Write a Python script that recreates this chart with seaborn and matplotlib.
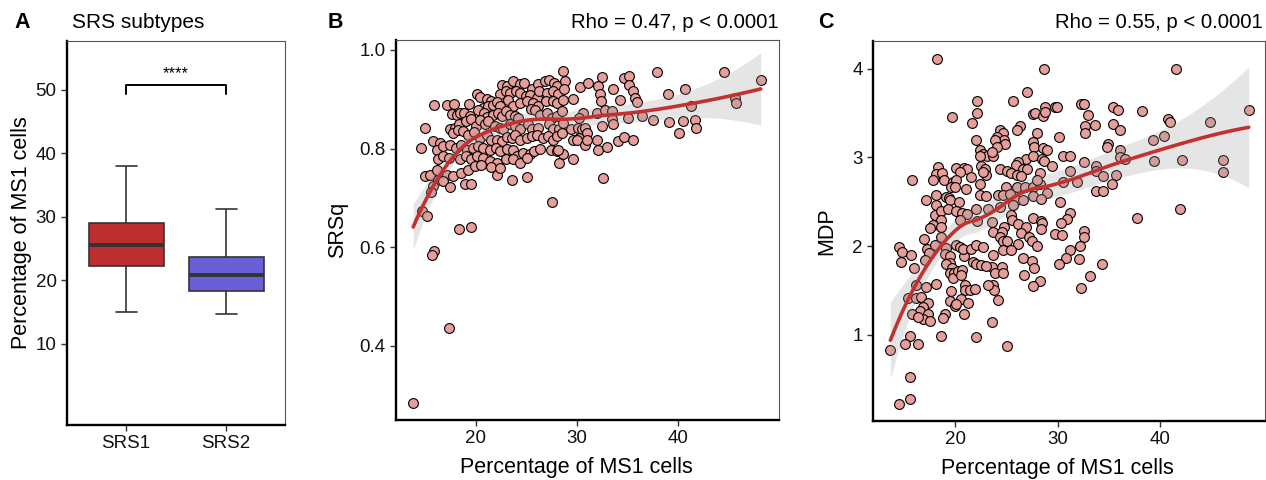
import numpy as np
import pandas as pd
import matplotlib
matplotlib.use('Agg')
from matplotlib import pyplot as plt
import seaborn as sns

# ---- panel A: five-number summaries (min, Q1, median, Q3, max)
subtypes = ['SRS1', 'SRS2']
srs1_box = [15.0, 22.3, 25.5, 29.0, 38.0]
srs2_box = [14.7, 18.3, 20.9, 23.7, 31.2]
box_colors = ['#BC2E30', '#6A5FD6']

# ---- panel B: Percentage of MS1 cells vs SRSq
ms1_b = [22.54, 23.04, 23.70, 24.36, 24.75, 25.51, 26.17, 26.83, 27.26, 27.72, 27.99,
         20.07, 20.40, 21.12, 21.55, 22.38, 22.97, 23.37, 23.96, 24.36, 24.95, 25.35, 26.01, 26.27, 27.00, 27.66, 28.15,
         15.87, 17.19, 17.85, 19.34, 20.66, 21.22, 21.72, 22.05, 22.38, 23.20, 23.70, 24.36, 25.02, 25.68, 26.17, 26.93, 27.66, 27.99,
         17.69, 18.09, 18.42, 18.81, 19.41, 20.23, 20.79, 21.12, 21.72, 22.21, 22.54, 22.97, 23.37, 23.86, 24.19, 25.41, 25.84, 26.34, 27.00, 27.49, 27.99,
         14.95, 17.43, 17.92, 18.32, 19.01, 19.57, 20.00, 20.40, 20.89, 21.22, 21.88, 22.38, 22.71, 23.37, 23.86, 24.36, 25.18, 25.51, 26.17, 27.26, 27.66, 28.25,
         15.78, 16.44, 17.76, 18.25, 18.75, 19.24, 19.80, 20.40, 21.06, 21.55, 22.05, 22.54, 23.04, 23.53, 23.86, 24.36, 25.02, 25.51, 26.01, 26.67, 27.16, 27.66, 27.99,
         14.62, 16.11, 16.77, 17.43, 18.02, 18.58, 19.08, 19.74, 20.23, 20.73, 21.39, 21.98, 22.38, 23.04, 23.70, 24.03, 24.62, 25.35, 25.74, 26.34, 27.39, 27.99,
         16.27, 16.77, 17.36, 18.42, 19.01, 19.57, 20.07, 20.73, 21.39, 22.05, 22.97, 23.70, 24.36, 25.02,
         14.95, 15.45, 16.11, 17.10, 17.76, 18.58, 19.24, 19.90, 20.56, 21.55, 22.05, 22.38, 23.53, 25.02, 16.27, 15.78, 16.77, 17.43, 18.91, 19.57,
         28.65, 28.82, 28.72, 28.65, 28.49, 28.65, 28.49, 28.58, 28.25, 28.16, 29.57, 29.38, 29.64, 29.57,
         30.30, 31.13, 30.63, 30.23, 30.14, 30.47, 30.80, 31.03, 30.23, 29.97, 30.80, 31.03,
         32.12, 32.45, 32.28, 32.35, 31.95, 32.45, 32.02, 32.12, 32.54, 32.78, 33.44,
         33.60, 34.26, 33.44, 33.60, 34.10, 34.66, 35.51, 33.01,
         34.66, 35.18, 35.18, 35.58, 35.75, 35.98, 35.09, 36.41,
         37.89, 37.56, 39.05, 39.15, 40.47, 40.14, 40.70, 41.26, 41.69, 41.79,
         44.56, 45.65, 45.75, 48.19,
         15.6, 14.7, 15.2, 18.3, 19.5, 15.9, 15.7, 27.5, 17.36, 13.8]
srsq = [.928, .926, .937, .930, .933, .921, .930, .937, .939, .933, .926,
        .911, .905, .901, .896, .910, .916, .913, .916, .913, .906, .908, .903, .916, .913, .916, .910,
        .888, .889, .891, .891, .882, .886, .889, .894, .886, .899, .886, .893, .896, .893, .886, .896, .896, .893,
        .871, .869, .872, .872, .866, .879, .872, .864, .869, .872, .866, .876, .869, .866, .862, .880, .879, .869, .872, .862, .866,
        .842, .839, .842, .849, .855, .859, .845, .857, .849, .855, .845, .842, .839, .849, .845, .839, .849, .839, .842, .849, .839, .839,
        .815, .811, .832, .837, .835, .828, .833, .822, .828, .817, .818, .815, .824, .822, .828, .818, .822, .825, .828, .822, .825, .818, .825,
        .801, .798, .805, .808, .801, .808, .798, .801, .806, .801, .798, .801, .795, .799, .798, .784, .791, .788, .795, .799, .798, .795,
        .779, .784, .781, .778, .784, .778, .784, .781, .774, .771, .778, .778, .771, .781,
        .744, .747, .757, .747, .744, .751, .757, .764, .766, .763, .747, .761, .737, .743, .737, .725, .734, .722, .729, .728,
        .957, .937, .920, .899, .876, .852, .832, .788, .771, .798, .901, .839, .778, .818,
        .925, .933, .872, .862, .842, .839, .842, .832, .822, .818, .808, .818,
        .926, .945, .910, .896, .872, .845, .818, .798, .741, .879, .876,
        .920, .899, .859, .849, .815, .824, .818, .803,
        .943, .948, .928, .916, .903, .894, .862, .866,
        .955, .857, .910, .853, .855, .832, .921, .886, .857, .842,
        .955, .903, .893, .939,
        .711, .673, .663, .637, .641, .593, .584, .692, .436, .284]

# ---- panel C: Percentage of MS1 cells vs MDP
ms1_c = [18.28, 22.15, 19.74, 22.15, 21.69, 22.08, 22.47, 22.73, 23.12, 22.41, 22.57, 22.89, 23.06, 22.73,
         18.34, 18.11, 17.85, 18.76, 18.93, 15.80, 20.07, 20.85, 21.17, 20.52, 21.59, 19.80, 20.13, 19.64,
         19.97, 21.04, 22.47, 18.11, 17.14, 18.18, 19.09, 19.41, 19.54, 20.39, 22.47, 23.06, 18.08, 18.60,
         19.32, 20.13, 20.72, 21.17, 22.08, 23.22, 18.67, 17.85, 18.67, 17.59, 20.52, 22.15,
         28.68, 41.56, 26.99, 25.69, 27.57, 27.80, 28.55, 28.78, 28.78, 29.75, 29.91, 32.26, 32.52, 33.00,
         35.38, 35.86, 38.21, 40.74, 40.97, 48.61, 44.87, 26.34, 26.08, 28.03, 30.17, 32.68, 32.68, 33.65,
         35.38, 36.03, 24.39, 24.71, 24.06, 24.78, 23.90, 24.87, 24.06, 27.64, 27.70, 28.61, 28.94, 34.86,
         34.79, 36.03, 36.09, 36.58, 30.56, 31.21, 32.52, 23.74, 23.57, 26.92, 27.64, 28.45, 28.68, 26.17,
         25.95, 29.43, 31.21, 33.75, 33.75, 39.28, 40.39, 39.35, 42.11, 46.08, 46.08, 24.39, 25.04, 25.43,
         26.66, 26.99, 26.01, 26.40, 28.29, 30.50, 31.87, 34.40, 35.70, 35.28, 33.75, 34.40, 24.97, 26.01,
         26.82, 27.64, 28.29, 27.96, 29.00, 27.64, 28.35, 24.22, 24.71, 25.36, 26.01, 26.66, 25.62, 24.39,
         30.24, 31.15, 30.95, 30.30, 27.57, 28.35, 28.45, 25.43, 25.52, 24.78, 26.17, 26.92, 28.35, 29.75,
         30.40, 32.52, 32.58, 23.57, 23.67, 24.55, 37.72, 41.95, 24.39, 26.40, 27.25,
         27.48, 27.96, 32.13, 31.15, 30.82, 30.08, 32.03, 34.30, 33.17, 32.26, 24.65, 25.10, 26.17, 24.71,
         25.43, 23.67, 23.57, 24.55, 23.90, 24.71, 26.60, 27.48, 27.70, 26.73, 28.29, 27.57, 23.67, 23.80,
         24.22, 23.57, 25.10,
         14.54, 14.86, 15.67, 14.76, 15.97, 16.94, 17.27, 18.02, 17.46, 17.04, 18.67, 19.15, 18.99, 19.54,
         19.48, 19.15, 19.74, 19.48, 19.87, 19.80, 20.29, 20.72, 20.62, 20.07, 20.52, 20.85, 20.78, 21.76,
         22.08, 22.57, 23.06, 21.53, 22.08, 22.73, 16.16, 17.20, 18.11, 19.64, 20.94, 20.94, 21.43, 21.92,
         23.22, 15.41, 16.23, 16.72, 17.37, 16.88, 16.55, 15.84, 17.37, 16.88, 17.59, 16.39, 19.02, 18.80,
         19.48, 19.97, 20.62, 21.27, 20.85, 20.10, 15.58, 15.09, 16.39, 18.60, 22.08, 13.69, 15.64, 15.64,
         14.54]
mdp = [4.11, 3.63, 3.45, 3.50, 3.39, 3.20, 3.08, 3.04, 3.02, 3.02, 2.90, 2.87, 2.80, 2.84,
       2.89, 2.81, 2.75, 2.82, 2.74, 2.75, 2.88, 2.88, 2.87, 2.84, 2.78, 2.72, 2.74, 2.67,
       2.67, 2.64, 2.70, 2.58, 2.52, 2.46, 2.55, 2.54, 2.52, 2.50, 2.58, 2.56, 2.35, 2.39,
       2.42, 2.39, 2.37, 2.36, 2.42, 2.42, 2.29, 2.24, 2.21, 2.20, 2.29, 2.28,
       4.00, 4.00, 3.73, 3.63, 3.49, 3.50, 3.46, 3.57, 3.51, 3.57, 3.57, 3.60, 3.60, 3.48,
       3.57, 3.53, 3.52, 3.43, 3.40, 3.53, 3.40, 3.35, 3.31, 3.27, 3.23, 3.35, 3.27, 3.36,
       3.37, 3.31, 3.31, 3.27, 3.23, 3.19, 3.19, 3.15, 3.12, 3.17, 3.12, 3.11, 3.08, 3.15,
       3.12, 3.08, 3.00, 2.98, 3.02, 3.02, 2.95, 3.02, 3.06, 2.98, 3.02, 2.98, 2.96, 2.95,
       2.91, 2.90, 2.85, 2.90, 2.85, 3.19, 3.24, 2.96, 2.97, 2.97, 2.84, 2.87, 2.85, 2.82,
       2.87, 2.87, 2.80, 2.79, 2.82, 2.72, 2.72, 2.79, 2.80, 2.70, 2.62, 2.62, 2.67, 2.67,
       2.67, 2.67, 2.70, 2.74, 2.60, 2.56, 2.53, 2.57, 2.57, 2.59, 2.52, 2.52, 2.46, 2.44,
       2.50, 2.37, 2.31, 2.26, 2.32, 2.28, 2.26, 2.35, 2.29, 2.22, 2.25, 2.22, 2.19, 2.14,
       2.13, 2.17, 2.10, 2.27, 2.16, 2.16, 2.32, 2.42, 2.10, 2.15, 2.10,
       2.06, 2.00, 2.00, 1.96, 1.87, 1.80, 1.86, 1.80, 1.66, 1.53, 2.06, 2.06, 2.02, 1.96,
       1.96, 1.90, 1.77, 1.77, 1.70, 1.70, 1.87, 1.83, 1.75, 1.67, 1.61, 1.55, 1.56, 1.50,
       1.39, 1.14, 0.88,
       1.985, 1.93, 1.90, 1.82, 1.75, 2.08, 1.97, 2.01, 1.92, 1.84, 2.10, 1.98, 1.91, 1.89,
       1.81, 1.80, 1.75, 1.70, 1.70, 1.64, 1.72, 1.73, 1.68, 2.01, 1.99, 1.89, 1.97, 1.82,
       1.80, 1.79, 1.78, 1.97, 2.01, 1.99, 1.56, 1.54, 1.57, 1.49, 1.56, 1.51, 1.51, 1.52,
       1.56, 1.41, 1.41, 1.43, 1.36, 1.31, 1.27, 1.24, 1.24, 1.18, 1.16, 1.20, 1.24, 1.19,
       1.38, 1.33, 1.40, 1.36, 1.23, 1.35, 0.99, 0.90, 0.90, 0.99, 0.98, 0.83, 0.53, 0.28,
       0.22]

point_color = '#E59E99'
line_color = '#C33130'


def loess(x, y, grid, span=0.75):
    # local quadratic fit with tricube weights, like R's loess defaults
    x = np.asarray(x, float)
    y = np.asarray(y, float)
    n = len(x)
    q = int(np.floor(n * span))

    def rows(x0):
        d = np.abs(x - x0)
        h = np.sort(d)[q - 1]
        w = np.clip(1 - (d / h) ** 3, 0, None) ** 3
        X = np.column_stack([np.ones(n), x - x0, (x - x0) ** 2])
        XW = X * w[:, None]
        return np.linalg.solve(X.T @ XW, XW.T)[0]

    L = np.array([rows(v) for v in x])
    I_L = np.eye(n) - L
    delta1 = np.trace(I_L.T @ I_L)
    sigma = np.sqrt(np.sum((I_L @ y) ** 2) / delta1)
    G = np.array([rows(v) for v in grid])
    return G @ y, sigma * np.sqrt(np.sum(G ** 2, axis=1))


sns.set_style('white')
plt.rcParams['font.family'] = ['Liberation Sans', 'DejaVu Sans']
plt.rcParams['text.color'] = 'black'
plt.rcParams['axes.labelcolor'] = 'black'

fig = plt.figure(figsize=(12.66, 4.8), dpi=100)
W, H = 1266, 480


def make_axes(left, top, right, bottom):
    return fig.add_axes([left / W, 1 - bottom / H, (right - left) / W, (bottom - top) / H])


def style_axes(ax):
    for s in ['top', 'right']:
        ax.spines[s].set_color('#555555')
        ax.spines[s].set_linewidth(0.8)
    for s in ['left', 'bottom']:
        ax.spines[s].set_color('black')
        ax.spines[s].set_linewidth(1.7)
    ax.tick_params(direction='out', length=4, width=1, color='#333333',
                   labelsize=13.5, labelcolor='#111111', left=True, bottom=True)


# ---- A
axA = make_axes(67, 41, 285, 425)
df_a = pd.DataFrame({'subtype': ['SRS1'] * 5 + ['SRS2'] * 5,
                     'pct': srs1_box + srs2_box})
sns.boxplot(data=df_a, x='subtype', y='pct', hue='subtype', order=subtypes,
            palette=box_colors, saturation=1, width=0.75, showfliers=False, whis=1.5,
            linecolor='#333333', linewidth=1.2, capwidths=0.21,
            medianprops=dict(linewidth=2.8, color='#333333'), ax=axA)
axA.plot([0, 0, 1, 1], [49.3, 50.8, 50.8, 49.3], color='black', lw=1.4)
axA.text(0.5, 51.3, '****', ha='center', va='bottom', fontsize=12)
axA.set_xlim(-0.59, 1.59)
axA.set_ylim(-2.8, 57.7)
axA.set_yticks([10, 20, 30, 40, 50])
axA.set_xlabel('')
axA.set_ylabel('Percentage of MS1 cells', fontsize=15.5)
axA.yaxis.set_label_coords(-0.162, 0.5)
style_axes(axA)

# ---- B and C
panels = [
    (make_axes(396, 40, 779, 420), ms1_b, srsq, 'SRSq', (12.1, 50.0), (0.25, 1.02),
     [0.4, 0.6, 0.8, 1.0], ['0.4', '0.6', '0.8', '1.0'], -0.126),
    (make_axes(873, 41, 1265, 421), ms1_c, mdp, 'MDP', (12.0, 50.2), (0.03, 4.31),
     [1, 2, 3, 4], ['1', '2', '3', '4'], -0.092),
]
for ax, xs, ys, ylab, xlim, ylim, yt, ytl, lab_x in panels:
    sns.scatterplot(x=xs, y=ys, color=point_color, edgecolor='black', linewidth=0.8,
                    s=50, ax=ax, zorder=2)
    grid = np.linspace(min(xs), max(xs), 100)
    fit, se = loess(xs, ys, grid)
    ax.fill_between(grid, fit - 1.97 * se, fit + 1.97 * se, color='#999999',
                    alpha=0.25, lw=0, zorder=3)
    sns.lineplot(x=grid, y=fit, color=line_color, lw=2.6, ax=ax, zorder=4)
    ax.set_xlim(*xlim)
    ax.set_ylim(*ylim)
    ax.set_xticks([20, 30, 40])
    ax.set_yticks(yt)
    ax.set_yticklabels(ytl)
    ax.set_xlabel('Percentage of MS1 cells', fontsize=15.5)
    ax.set_ylabel(ylab, fontsize=15.5)
    ax.xaxis.set_label_coords(0.47, -0.097)
    ax.yaxis.set_label_coords(lab_x, 0.5)
    style_axes(ax)

# ---- titles and panel letters
fig.text(22 / W, 1 - 23 / H, 'A', fontsize=15.5, fontweight='bold', ha='center', va='center')
fig.text(335 / W, 1 - 23 / H, 'B', fontsize=15.5, fontweight='bold', ha='center', va='center')
fig.text(826 / W, 1 - 23 / H, 'C', fontsize=15.5, fontweight='bold', ha='center', va='center')
fig.text(72 / W, 1 - 22 / H, 'SRS subtypes', fontsize=15, ha='left', va='center')
fig.text(779 / W, 1 - 22 / H, 'Rho = 0.47, p < 0.0001', fontsize=14.7, ha='right', va='center')
fig.text(1263 / W, 1 - 22 / H, 'Rho = 0.55, p < 0.0001', fontsize=14.7, ha='right', va='center')

fig.savefig('out.png', dpi=100)
